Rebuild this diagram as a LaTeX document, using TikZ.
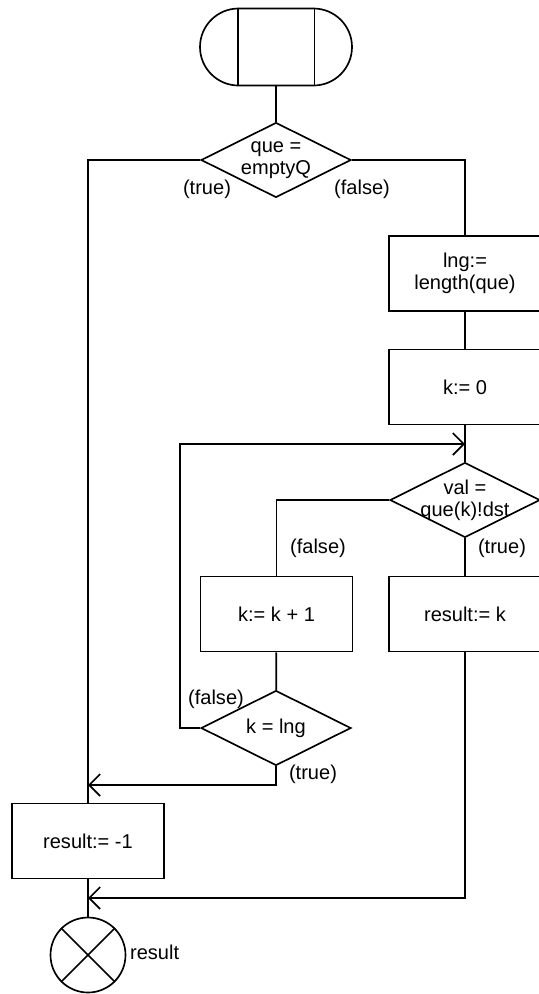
\documentclass[tikz,border=0pt]{standalone}
\usepackage{fontspec}
\setmainfont{Liberation Sans}
\usepackage{tikz}
\usetikzlibrary{arrows.meta,positioning,shapes.geometric}

\begin{document}
\begin{tikzpicture}[
    font=\fontsize{11.4}{12.5}\selectfont,
    line width=0.95pt,
    box/.style={draw, minimum width=3.04cm, minimum height=1.5cm, align=center, inner sep=0pt},
    cond/.style={draw, diamond, minimum width=3cm, minimum height=1.5cm, inner sep=0pt},
    txt/.style={align=center, inner sep=0pt},
    lbl/.style={inner sep=0pt},
    >={Straight Barb[length=0.22cm, width=0.44cm]}
]
\useasboundingbox (0,0) rectangle (10.76,-19.88);

% Start and first test
\node[draw, rounded corners=0.77cm, minimum width=3.04cm, minimum height=1.54cm] (start) at (5.52,-0.94) {};
\draw ([xshift=0.77cm]start.north west) -- ([xshift=0.77cm]start.south west);
\draw ([xshift=-0.77cm]start.north east) -- ([xshift=-0.77cm]start.south east);

\node[cond] (d1) at (5.52,-3.2) {};
\node[txt] (d1txt) at (d1) {que =\\emptyQ};
\node[lbl] (d1t) at (4.14,-3.78) {(true)};
\node[lbl] (d1f) at (7.24,-3.78) {(false)};

% Right branch: search loop
\node[box] (lng) at (9.3,-5.47) {lng:=\\length(que)};
\node[box] (k0) at (9.3,-7.74) {k:= 0};
\coordinate (j1) at (9.3,-8.88);

\node[cond] (d2) at (9.3,-10.0) {};
\node[txt] (d2txt) at (d2) {val =\\que(k)!dst};
\node[lbl] (d2f) at (6.36,-10.96) {(false)};
\node[lbl] (d2t) at (10.04,-10.96) {(true)};

\node[box] (inc) at (5.53,-12.28) {k:= k + 1};
\node[box] (resk) at (9.3,-12.28) {result:= k};

\node[cond] (d3) at (5.52,-14.56) {};
\node[txt] (d3txt) at (d3) {k = lng};
\node[lbl] (d3f) at (4.32,-13.98) {(false)};
\node[lbl] (d3t) at (6.26,-15.48) {(true)};

% Left branch and end
\coordinate (j2) at (1.76,-15.7);
\node[box] (m1) at (1.76,-16.82) {result:= -1};
\coordinate (j3) at (1.76,-17.96);
\node[draw, circle, minimum size=1.5cm, inner sep=0pt] (stop) at (1.76,-19.1) {};
\draw (stop.north west) -- (stop.south east);
\draw (stop.north east) -- (stop.south west);
\node[lbl, anchor=west] (res) at ([xshift=0.06cm, yshift=0.06cm]stop.east) {result};

% Connectors
\draw (start) -- (d1);
\draw (d1.west) -| (m1.north);
\draw (d1.east) -| (lng.north);
\draw (lng) -- (k0);
\draw (k0) -- (d2);
\draw (d2.west) -| (inc.north);
\draw (d2) -- (resk);
\draw (inc) -- (d3);
\draw[->] (d3.west) -- ++(-0.4,0) |- (j1);
\draw[->] (d3.south) |- (j2);
\draw[->] (resk.south) |- (j3);
\draw (m1) -- (stop);

\end{tikzpicture}
\end{document}
